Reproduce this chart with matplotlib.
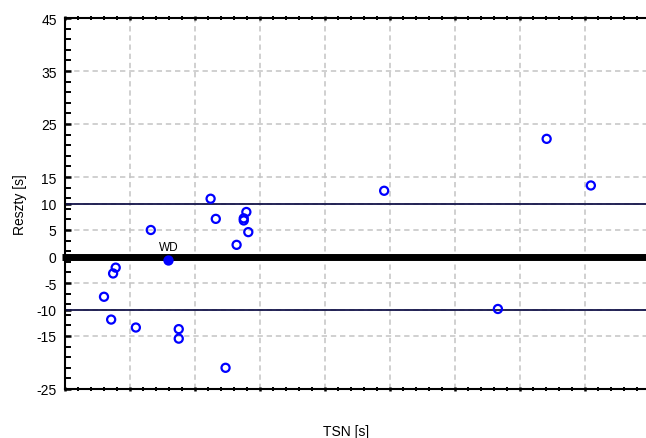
import matplotlib
matplotlib.use("Agg")
import matplotlib.pyplot as plt
from matplotlib.ticker import FixedLocator, MultipleLocator, NullFormatter

plt.rcParams['font.family'] = ['Liberation Sans', 'DejaVu Sans']

# data (x in arbitrary TSN units, y residuals in s)
tsn = [0.60, 0.71, 0.74, 0.78, 1.09, 1.32, 1.75, 1.75, 2.24, 2.32, 2.47, 2.64,
       2.75, 2.75, 2.79, 2.82, 4.91, 6.66, 7.41, 8.09]
reszty = [-7.6, -11.9, -3.2, -2.1, -13.4, 5.0, -13.7, -15.5, 10.9, 7.1, -21.0, 2.2,
          7.2, 6.8, 8.4, 4.6, 12.4, -9.9, 22.2, 13.4]
wd_x = [1.59]
wd_y = [-0.6]
wd_label = "WD"
limits = [10, -10]
ytick_vals = [45, 35, 25, 15, 10, 5, 0, -5, -10, -15, -25]
ytick_labels = ["45", "35", "25", "15", "10", "5", "0", "-5", "-10", "-15", "-25"]

fig = plt.figure(figsize=(6.46, 4.39), dpi=100)
ax = fig.add_axes([65/646, 1-390/439, 1-65/646, (390-19)/439])

ax.set_xlim(0, (646-65)/65)
ax.set_ylim(-25, 45)

# grid
ax.xaxis.set_major_locator(MultipleLocator(1))
ax.xaxis.set_minor_locator(MultipleLocator(0.2))
ax.xaxis.set_major_formatter(NullFormatter())
ax.yaxis.set_major_locator(FixedLocator(ytick_vals))
ax.set_yticklabels(ytick_labels)
ax.yaxis.set_minor_locator(FixedLocator(list(range(-25, 46, 2))))
ax.grid(True, which='major', color='#c4c4c4', linestyle=(0, (3.5, 2.5)), linewidth=1.1)
ax.set_axisbelow(True)

# reference lines
for v in limits:
    ax.axhline(v, color='#14144a', linewidth=1.3, zorder=2)
ax.plot([-0.05, (646-65)/65], [0, 0], color='black', linewidth=5, clip_on=False,
        solid_capstyle='butt', zorder=3)

# points
ax.scatter(tsn, reszty, s=34, facecolors='none', edgecolors='#0000ff', linewidths=1.6, zorder=4)
ax.scatter(wd_x, wd_y, s=34, facecolors='#0000ff', edgecolors='#0000ff', linewidths=1.6, zorder=4)
ax.annotate(wd_label, (wd_x[0], wd_y[0]), xytext=(0, 5), textcoords='offset points',
            ha='center', va='bottom', fontsize=8.5)

# spines & ticks
ax.spines['right'].set_visible(False)
for s in ['left', 'top', 'bottom']:
    ax.spines[s].set_linewidth(1.5)
ax.tick_params(axis='both', which='major', direction='inout', length=3, width=1.8,
               labelsize=10, top=True, pad=5)
ax.tick_params(axis='both', which='minor', direction='inout', length=2.2, width=1.4, top=True)
ax.tick_params(axis='y', which='both', direction='in', length=4)
ax.tick_params(axis='y', which='major', pad=6)

ax.set_ylabel("Reszty [s]", fontsize=10, va='center')
ax.yaxis.set_label_coords((20-65)/581, 0.5)
ax.set_xlabel("TSN [s]", fontsize=10, va='center')
ax.xaxis.set_label_coords((346-65)/581, -(432-390)/371)

fig.savefig("out.png", dpi=100)
